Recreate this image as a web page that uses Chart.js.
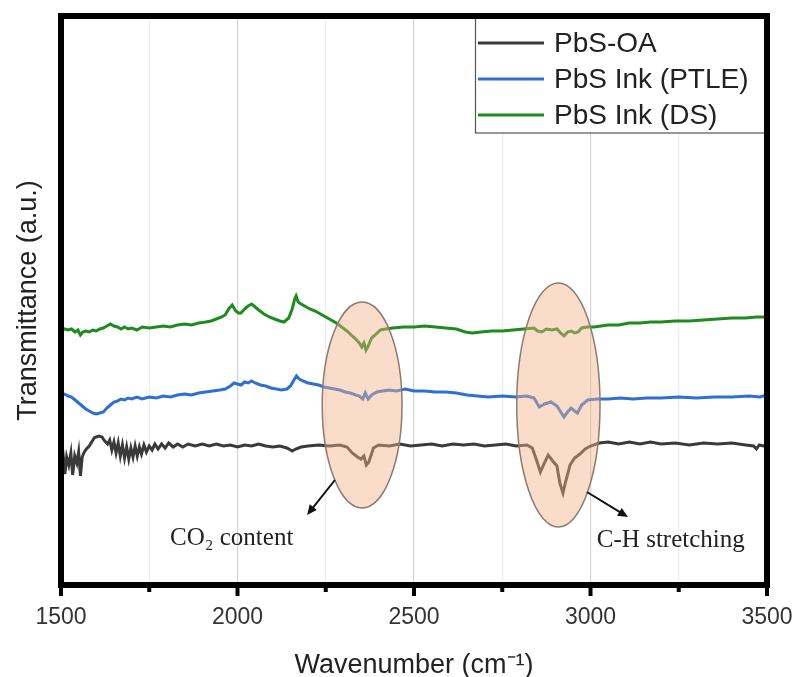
<!DOCTYPE html>
<html>
<head>
<meta charset="utf-8">
<script src="https://cdn.jsdelivr.net/npm/chart.js@4/dist/chart.umd.min.js"></script>
<style>
html,body{margin:0;padding:0;background:#fff;overflow:hidden;}
#wrap{width:797px;height:677px;position:relative;}
canvas{display:block;}
</style>
</head>
<body>
<div id="wrap"><canvas id="c" width="797" height="677"></canvas></div>
<script>
// ---- data: [wavenumber (cm^-1), transmittance (a.u.)] ----
const seriesLabels = ["PbS-OA", "PbS Ink (PTLE)", "PbS Ink (DS)"];
const xTickValues = [1500, 2000, 2500, 3000, 3500];

const oaSpectrum = [[1500,121],[1506,128],[1511,109],[1516,126],[1522,118],[1528,130],[1533,108],[1539,127],[1545,120],[1550,131],[1555,107],[1560,126],[1566,131],[1572,134],[1580,137],[1587,141],[1594,145],[1600,146],[1608,147],[1616,146],[1624,142],[1632,139],[1638,143],[1644,133],[1650,141],[1656,130],[1662,140],[1668,127],[1674,138],[1680,125],[1686,136],[1692,124],[1698,135],[1704,126],[1710,137],[1716,127],[1722,136],[1728,129],[1735,138],[1742,131],[1750,137],[1758,133],[1766,139],[1775,134],[1785,139],[1795,135],[1805,140],[1818,136],[1830,139],[1845,136],[1860,139],[1880,137],[1900,139],[1920,137],[1940,139],[1960,137],[1980,138],[2000,136],[2020,138],[2040,137],[2060,139],[2080,137],[2100,136],[2120,137],[2140,135],[2155,132],[2165,134],[2180,136],[2200,137],[2230,138],[2260,137],[2290,138],[2310,136],[2325,130],[2340,126],[2350,124],[2358,127],[2365,118],[2372,121],[2385,135],[2400,138],[2430,137],[2460,139],[2490,137],[2520,138],[2550,139],[2580,137],[2610,139],[2640,138],[2670,139],[2700,137],[2730,138],[2760,139],[2790,137],[2820,138],[2835,135],[2848,122],[2858,111],[2868,119],[2880,128],[2893,122],[2905,117],[2913,100],[2922,90],[2930,102],[2942,118],[2955,125],[2970,129],[2985,134],[3000,137],[3025,140],[3050,141],[3080,139],[3110,141],[3140,139],[3170,141],[3200,139],[3240,140],[3280,138],[3320,140],[3360,139],[3400,140],[3440,138],[3462,137],[3470,134],[3478,138],[3490,137],[3500,139]];

const ptleSpectrum = [[1500,188],[1510,189],[1520,187],[1530,186],[1540,183],[1550,180],[1560,177],[1570,174],[1580,172],[1590,170],[1600,169],[1610,170],[1620,171],[1630,175],[1640,178],[1650,181],[1660,182],[1670,184],[1680,183],[1690,185],[1700,184],[1715,186],[1730,184],[1750,186],[1770,185],[1790,187],[1810,186],[1830,188],[1850,189],[1870,188],[1890,190],[1910,191],[1930,192],[1950,193],[1965,194],[1980,197],[1990,200],[2000,199],[2010,198],[2020,201],[2030,200],[2040,202],[2050,200],[2065,198],[2080,197],[2095,195],[2110,194],[2125,193],[2140,194],[2150,197],[2160,203],[2167,207],[2175,204],[2185,202],[2200,200],[2215,199],[2230,198],[2245,196],[2260,195],[2275,194],[2290,193],[2305,191],[2320,190],[2335,188],[2345,187],[2355,184],[2362,190],[2370,184],[2380,188],[2395,191],[2410,192],[2430,193],[2450,192],[2475,194],[2500,192],[2530,192],[2560,191],[2590,191],[2620,190],[2650,188],[2680,187],[2710,186],[2750,187],[2790,186],[2820,187],[2840,185],[2855,176],[2870,179],[2888,181],[2905,177],[2925,166],[2935,171],[2945,175],[2955,172],[2963,170],[2975,178],[2992,183],[3020,184],[3050,184],[3085,185],[3120,184],[3160,185],[3200,185],[3250,186],[3300,185],[3350,186],[3400,186],[3450,187],[3480,186],[3500,188]];

const dsSpectrum = [[1500,255],[1510,254],[1520,253],[1530,254],[1540,251],[1548,253],[1555,248],[1562,251],[1570,252],[1580,251],[1590,253],[1600,252],[1610,254],[1620,255],[1630,257],[1640,259],[1650,257],[1660,256],[1670,254],[1680,256],[1690,254],[1700,255],[1715,253],[1730,256],[1750,255],[1770,256],[1790,257],[1810,256],[1830,258],[1850,259],[1870,258],[1890,260],[1910,261],[1925,262],[1940,264],[1955,266],[1965,268],[1975,274],[1985,278],[1995,272],[2003,270],[2010,270],[2020,274],[2030,277],[2040,279],[2050,276],[2060,273],[2075,269],[2090,266],[2105,264],[2120,262],[2132,261],[2145,265],[2155,274],[2162,284],[2166,287],[2172,281],[2180,279],[2190,277],[2205,274],[2220,272],[2235,269],[2250,266],[2265,263],[2280,260],[2295,256],[2310,252],[2325,247],[2335,244],[2345,240],[2352,236],[2358,240],[2364,233],[2370,237],[2380,245],[2390,248],[2405,253],[2420,254],[2440,255],[2470,256],[2500,256],[2530,257],[2560,256],[2590,255],[2620,254],[2645,251],[2665,250],[2690,251],[2720,252],[2750,252],[2780,253],[2810,254],[2840,255],[2850,252],[2862,251],[2875,254],[2890,253],[2905,254],[2915,250],[2925,247],[2935,251],[2945,252],[2955,250],[2965,251],[2975,255],[2990,256],[3010,256],[3030,257],[3050,258],[3080,258],[3110,260],[3140,260],[3170,261],[3200,261],[3240,262],[3280,262],[3320,263],[3360,264],[3400,265],[3440,265],[3470,266],[3500,266]];

const seriesColors = ["#3a3a3a", "#2f6fd2", "#1f8a1f"];
const annoTexts = ["CO\u2082 content", "C-H stretching"];

function pts(arr){ return arr.map(p => ({x: p[0], y: p[1]})); }

const SANS = '"Liberation Sans", Arial, sans-serif';

const decor = {
  id: 'decor',
  afterDatasetsDraw(chart){
    const {ctx, scales:{x, y}} = chart;
    ctx.save();
    const ells = [
      {cx: 2353, cy: 178, rx: 113, ry: 103},
      {cx: 2909, cy: 178, rx: 118, ry: 122}
    ];
    ells.forEach(e => {
      const px = x.getPixelForValue(e.cx), py = y.getPixelForValue(e.cy);
      const rx = Math.abs(x.getPixelForValue(e.cx + e.rx) - px);
      const ry = Math.abs(y.getPixelForValue(e.cy + e.ry) - py);
      ctx.beginPath();
      ctx.ellipse(px, py, rx, ry, 0, 0, Math.PI*2);
      ctx.fillStyle = 'rgba(242,177,135,0.45)';
      ctx.fill();
      ctx.lineWidth = 1.5;
      ctx.strokeStyle = '#8c7b70';
      ctx.stroke();
    });
    const arrows = [
      {x1: 2276, y1: 103, x2: 2197, y2: 68},
      {x1: 2990, y1: 91, x2: 3106, y2: 66}
    ];
    arrows.forEach(a => {
      const X1 = x.getPixelForValue(a.x1), Y1 = y.getPixelForValue(a.y1);
      const X2 = x.getPixelForValue(a.x2), Y2 = y.getPixelForValue(a.y2);
      const ang = Math.atan2(Y2 - Y1, X2 - X1);
      ctx.strokeStyle = '#111'; ctx.fillStyle = '#111'; ctx.lineWidth = 2;
      ctx.beginPath(); ctx.moveTo(X1, Y1);
      ctx.lineTo(X2 - 6*Math.cos(ang), Y2 - 6*Math.sin(ang)); ctx.stroke();
      ctx.beginPath();
      ctx.moveTo(X2, Y2);
      ctx.lineTo(X2 - 10*Math.cos(ang) + 4.5*Math.sin(ang), Y2 - 10*Math.sin(ang) - 4.5*Math.cos(ang));
      ctx.lineTo(X2 - 10*Math.cos(ang) - 4.5*Math.sin(ang), Y2 - 10*Math.sin(ang) + 4.5*Math.cos(ang));
      ctx.closePath(); ctx.fill();
    });
    ctx.fillStyle = '#222';
    ctx.font = '25px "Liberation Serif", "Times New Roman", serif';
    ctx.textBaseline = 'middle'; ctx.textAlign = 'left';
    ctx.fillText(annoTexts[0], x.getPixelForValue(1809), y.getPixelForValue(45));
    ctx.fillText(annoTexts[1], x.getPixelForValue(3018), y.getPixelForValue(43));
    ctx.restore();
  },
  afterDraw(chart){
    const {ctx, chartArea:ca, scales:{x}} = chart;
    ctx.save();
    const lx = 475, ly = ca.top, lw = ca.right - 475, lh = 117;
    ctx.fillStyle = '#fff';
    ctx.fillRect(lx, ly, lw, lh);
    ctx.strokeStyle = '#555'; ctx.lineWidth = 1.2;
    ctx.strokeRect(lx + 0.5, ly, lw, lh);
    ctx.font = '28px ' + SANS;
    ctx.textBaseline = 'middle'; ctx.textAlign = 'left';
    chart.data.datasets.forEach((ds, i) => {
      const ry = ly + 27 + i*36;
      ctx.strokeStyle = ds.borderColor; ctx.lineWidth = 3;
      ctx.beginPath(); ctx.moveTo(lx + 3, ry); ctx.lineTo(lx + 69, ry); ctx.stroke();
      ctx.fillStyle = '#222';
      ctx.fillText(ds.label, lx + 79, ry + 1);
    });
    ctx.strokeStyle = '#000'; ctx.lineWidth = 4;
    for (let v = 1500; v <= 3500; v += 250){
      const px = x.getPixelForValue(v);
      const len = (v % 500 === 0) ? 11 : 7;
      ctx.beginPath(); ctx.moveTo(px, ca.bottom); ctx.lineTo(px, ca.bottom + len); ctx.stroke();
    }
    ctx.lineWidth = 6; ctx.strokeStyle = '#000';
    ctx.strokeRect(ca.left, ca.top, ca.right - ca.left, ca.bottom - ca.top);
    ctx.restore();
  }
};

new Chart(document.getElementById('c'), {
  type: 'line',
  data: {
    datasets: [
      {label: seriesLabels[0], data: pts(oaSpectrum), borderColor: seriesColors[0]},
      {label: seriesLabels[1], data: pts(ptleSpectrum), borderColor: seriesColors[1]},
      {label: seriesLabels[2], data: pts(dsSpectrum), borderColor: seriesColors[2]}
    ].map(d => Object.assign(d, {borderWidth: 3, pointRadius: 0, tension: 0, fill: false}))
  },
  options: {
    responsive: false,
    animation: false,
    devicePixelRatio: 1,
    layout: {padding: {top: 16, right: 30, left: 0, bottom: 0}},
    plugins: {legend: {display: false}, tooltip: {enabled: false}},
    scales: {
      x: {
        type: 'linear', min: 1500, max: 3500,
        afterFit(s){ s.height = 92; s.paddingLeft = 0; s.paddingRight = 0; },
        ticks: {
          stepSize: 250, autoSkip: false, padding: 19,
          color: '#333', font: {family: SANS, size: 23},
          callback: v => xTickValues.includes(v) ? String(v) : ''
        },
        grid: {
          drawTicks: false,
          color: c => (c.tick && c.tick.value % 500 === 0) ? '#d4d4d4' : '#ededed',
          lineWidth: 1.2
        },
        border: {display: false},
        title: {display: true, text: 'Wavenumber (cm\u207B\u00B9)', color: '#222',
          font: {family: SANS, size: 27, lineHeight: 0.85}, padding: {top: 0, bottom: 0}}
      },
      y: {
        min: -2, max: 567,
        afterFit(s){ s.width = 61; s.paddingTop = 0; s.paddingBottom = 0; },
        ticks: {display: false},
        grid: {display: false, drawTicks: false},
        border: {display: false},
        title: {display: true, text: 'Transmittance (a.u.)', color: '#222',
          font: {family: SANS, size: 27}, padding: {top: 12, bottom: 0}}
      }
    }
  },
  plugins: [decor]
});
</script>
</body>
</html>
